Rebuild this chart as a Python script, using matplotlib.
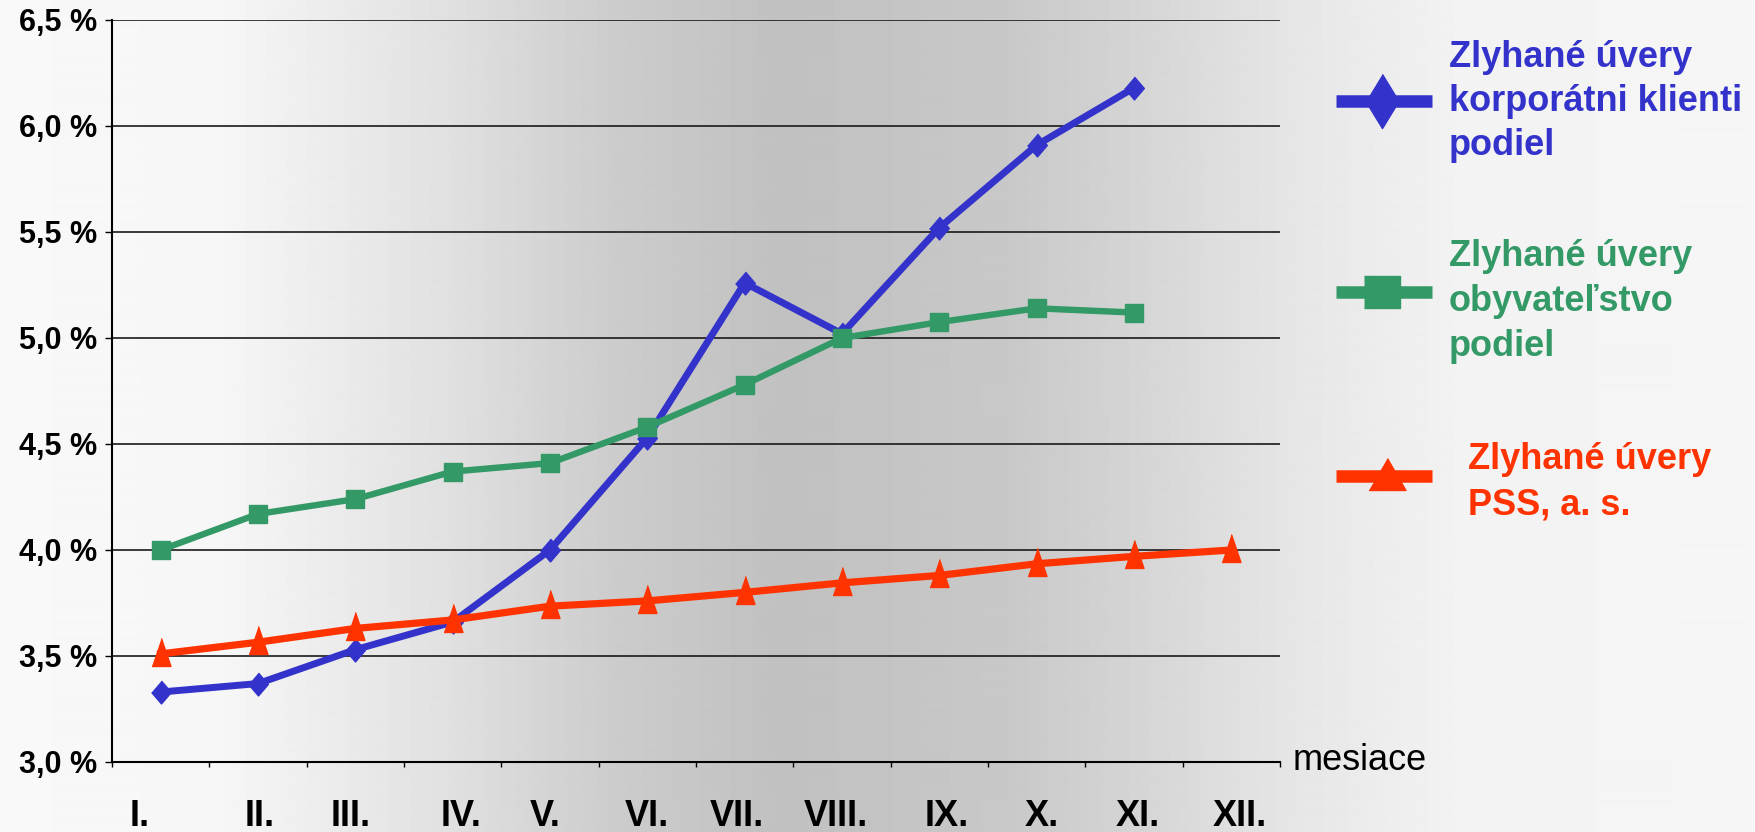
import numpy as np
import matplotlib
matplotlib.use("Agg")
import matplotlib.pyplot as plt
from matplotlib.lines import Line2D
from matplotlib.transforms import ScaledTranslation

plt.rcParams['font.family'] = ['Liberation Sans', 'DejaVu Sans']

# data
months = ["I.", "II.", "III.", "IV.", "V.", "VI.", "VII.", "VIII.", "IX.", "X.", "XI.", "XII."]
korporatni = [3.33, 3.37, 3.53, 3.66, 4.00, 4.53, 5.26, 5.02, 5.52, 5.91, 6.18]
obyvatelstvo = [4.00, 4.17, 4.24, 4.37, 4.41, 4.58, 4.78, 5.00, 5.075, 5.14, 5.12]
pss = [3.51, 3.565, 3.63, 3.67, 3.735, 3.76, 3.80, 3.845, 3.88, 3.935, 3.97, 4.00]
yticks = [3.0, 3.5, 4.0, 4.5, 5.0, 5.5, 6.0, 6.5]

labels = [["Zlyhané úvery", "korporátni klienti", "podiel"],
          ["Zlyhané úvery", "obyvateľstvo", "podiel"],
          ["Zlyhané úvery", "PSS, a. s."]]

BLUE = "#3333CC"
GREEN = "#339966"
RED = "#FF3300"

W, H = 1755, 832
fig = plt.figure(figsize=(W / 100, H / 100), dpi=100)

# background gradient over whole figure
bg = fig.add_axes([0, 0, 1, 1], zorder=-10)
gx = [0, 224, 448, 616, 784, 1008, 1176, 1288, 1456, 1755]
gv = [0.975, 0.965, 0.88, 0.80, 0.755, 0.785, 0.85, 0.90, 0.95, 0.965]
grad = np.interp(np.arange(W), gx, gv)
bg.imshow(np.tile(grad, (2, 1)), cmap="gray", vmin=0, vmax=1, aspect="auto",
          extent=[0, 1, 0, 1])
bg.set_axis_off()

def fx(px):
    return px / W

def fy(py):
    return 1 - py / H

ax = fig.add_axes([fx(112), fy(762), fx(1280) - fx(112), fy(20) - fy(762)])
ax.set_facecolor("none")

x_k = np.arange(len(korporatni))
x_o = np.arange(len(obyvatelstvo))
x_p = np.arange(len(pss))

diamond = [(0, 1), (0.86, 0), (0, -1), (-0.86, 0)]
triangle = [(0, 1), (0.594, -0.75), (-0.594, -0.75)]

ax.plot(x_k, korporatni, color=BLUE, lw=5, marker=diamond, ms=16.5, zorder=3)
ax.plot(x_o, obyvatelstvo, color=GREEN, lw=4.6, marker="s", ms=12.5, zorder=4)
ax.plot(x_p, pss, color=RED, lw=5.2, marker=triangle, ms=23, zorder=5)

ax.set_xlim(-0.5, len(months) - 0.5)
ax.set_ylim(3.0, 6.5)

ax.set_yticks(yticks)
ax.set_yticklabels([("%.1f %%" % v).replace(".", ",") for v in yticks],
                   fontsize=22, fontweight="bold")
ax.tick_params(axis="y", direction="out", length=5, width=1, pad=5.8)
ax.yaxis.grid(True, color="#1a1a1a", lw=1.2)

ax.set_xticks(np.arange(len(months) + 1) - 0.5)
ax.set_xticklabels([])
ax.set_xticks(np.arange(len(months)), minor=True)
ax.set_xticklabels(months, minor=True, fontsize=26, fontweight="bold")
ax.tick_params(axis="x", which="major", direction="out", length=3.6, width=1)
ax.tick_params(axis="x", which="minor", length=0, pad=27)

# the month labels in the original sit a little off-centre
label_shift = [-21, 2, -5, 8, -5, 0, -8, -6, 7, 5, 4, 8]
for lbl, sh in zip(ax.xaxis.get_minorticklabels(), label_shift):
    lbl.set_transform(lbl.get_transform() + ScaledTranslation(sh / 100, 0, fig.dpi_scale_trans))

for s in ["top", "right"]:
    ax.spines[s].set_visible(False)
for s in ["left", "bottom"]:
    ax.spines[s].set_color("black")
    ax.spines[s].set_linewidth(1.5)

fig.text(fx(1293), fy(770), "mesiace", fontsize=26, va="baseline", ha="left")

# legend drawn by hand
def legend_entry(color, ly, mx, marker, ms, tx, baselines, lines):
    fig.add_artist(Line2D([fx(1336), fx(1432)], [fy(ly), fy(ly)], color=color,
                          lw=9, solid_capstyle="butt", transform=fig.transFigure))
    fig.add_artist(Line2D([fx(mx)], [fy(ly)], color=color, marker=marker, ms=ms,
                          lw=0, transform=fig.transFigure))
    for b, t in zip(baselines, lines):
        fig.text(fx(tx), fy(b), t, color=color, fontsize=26, fontweight="bold",
                 va="baseline", ha="left")

legend_diamond = [(0, 1), (0.61, 0), (0, -1), (-0.61, 0)]
legend_square = [(-1, -0.86), (1, -0.86), (1, 0.86), (-1, 0.86)]
legend_triangle = [(0, 0.973), (1, -0.757), (-1, -0.757)]

legend_entry(BLUE, 101, 1382, legend_diamond, 39, 1449, [67, 111, 155], labels[0])
legend_entry(GREEN, 292, 1382, legend_square, 26.6, 1449, [266, 311, 356], labels[1])
legend_entry(RED, 476, 1387, legend_triangle, 26.6, 1468, [469, 514], labels[2])

fig.savefig("out.png", dpi=100)
